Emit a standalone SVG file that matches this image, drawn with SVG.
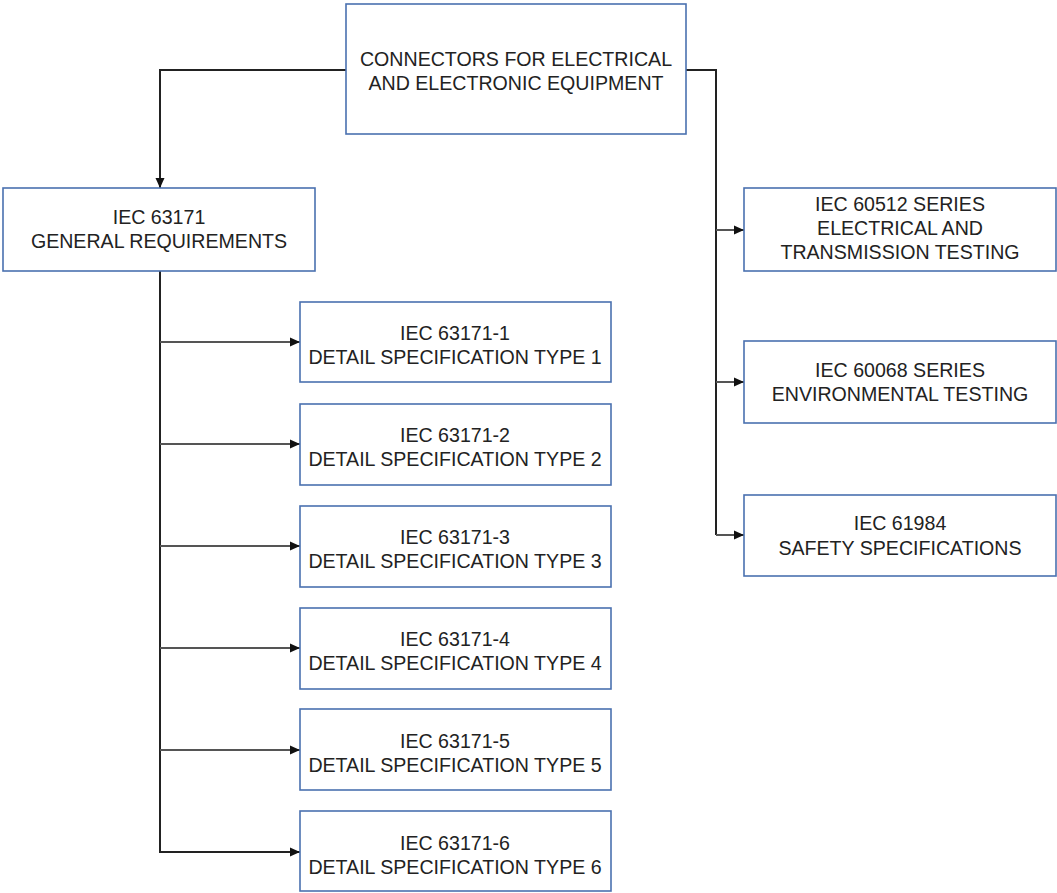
<svg xmlns="http://www.w3.org/2000/svg" width="1057" height="893" viewBox="0 0 1057 893">
<defs>
<marker id="arr" markerWidth="10" markerHeight="10" refX="10" refY="5" orient="auto" markerUnits="userSpaceOnUse">
<path d="M0,0.5 L10,5 L0,9.5 Z" fill="#111"/>
</marker>
<style>
.box{fill:#fff;stroke:#4a71b0;stroke-width:1.6}
.t{font-family:"Liberation Sans",Arial,sans-serif;font-size:19.6px;fill:#222;text-anchor:middle}
.c{fill:none;stroke:#222;stroke-width:2}
.g{fill:none;stroke:#555;stroke-width:2}
</style>
</defs>
<rect width="1057" height="893" fill="#fff"/>
<g id="connectors">
<path class="c" d="M346,70 H160 V188" marker-end="url(#arr)"/>
<path class="c" d="M686,70 H716 V535"/>
<path class="g" d="M716,230 H744" marker-end="url(#arr)"/>
<path class="g" d="M716,382 H744" marker-end="url(#arr)"/>
<path class="g" d="M716,535 H744" marker-end="url(#arr)"/>
<path class="c" d="M160,271 V852 H300" marker-end="url(#arr)"/>
<path class="g" d="M160,342 H300" marker-end="url(#arr)"/>
<path class="g" d="M160,444 H300" marker-end="url(#arr)"/>
<path class="g" d="M160,546 H300" marker-end="url(#arr)"/>
<path class="g" d="M160,648 H300" marker-end="url(#arr)"/>
<path class="g" d="M160,750 H300" marker-end="url(#arr)"/>
</g>
<g id="root"><rect class="box" x="346" y="4" width="340" height="130"/>
<text class="t" x="516" y="66">CONNECTORS FOR ELECTRICAL</text><text class="t" x="516" y="90">AND ELECTRONIC EQUIPMENT</text></g>
<g id="general"><rect class="box" x="3" y="188" width="312" height="83"/>
<text class="t" x="159" y="224">IEC 63171</text><text class="t" x="159" y="248">GENERAL REQUIREMENTS</text></g>
<g id="d1"><rect class="box" x="300" y="302" width="311" height="80"/>
<text class="t" x="455" y="340">IEC 63171-1</text><text class="t" x="455" y="364">DETAIL SPECIFICATION TYPE 1</text></g>
<g id="d2"><rect class="box" x="300" y="404" width="311" height="81"/>
<text class="t" x="455" y="442">IEC 63171-2</text><text class="t" x="455" y="466">DETAIL SPECIFICATION TYPE 2</text></g>
<g id="d3"><rect class="box" x="300" y="506" width="311" height="81"/>
<text class="t" x="455" y="544">IEC 63171-3</text><text class="t" x="455" y="568">DETAIL SPECIFICATION TYPE 3</text></g>
<g id="d4"><rect class="box" x="300" y="608" width="311" height="81"/>
<text class="t" x="455" y="646">IEC 63171-4</text><text class="t" x="455" y="670">DETAIL SPECIFICATION TYPE 4</text></g>
<g id="d5"><rect class="box" x="300" y="709" width="311" height="81"/>
<text class="t" x="455" y="748">IEC 63171-5</text><text class="t" x="455" y="772">DETAIL SPECIFICATION TYPE 5</text></g>
<g id="d6"><rect class="box" x="300" y="811" width="311" height="80"/>
<text class="t" x="455" y="850">IEC 63171-6</text><text class="t" x="455" y="874">DETAIL SPECIFICATION TYPE 6</text></g>
<g id="r1"><rect class="box" x="744" y="188" width="312" height="83"/>
<text class="t" x="900" y="211">IEC 60512 SERIES</text><text class="t" x="900" y="235">ELECTRICAL AND</text><text class="t" x="900" y="259">TRANSMISSION TESTING</text></g>
<g id="r2"><rect class="box" x="744" y="341" width="312" height="82"/>
<text class="t" x="900" y="377">IEC 60068 SERIES</text><text class="t" x="900" y="401">ENVIRONMENTAL TESTING</text></g>
<g id="r3"><rect class="box" x="744" y="495" width="312" height="81"/>
<text class="t" x="900" y="530">IEC 61984</text><text class="t" x="900" y="555">SAFETY SPECIFICATIONS</text></g>
</svg>
